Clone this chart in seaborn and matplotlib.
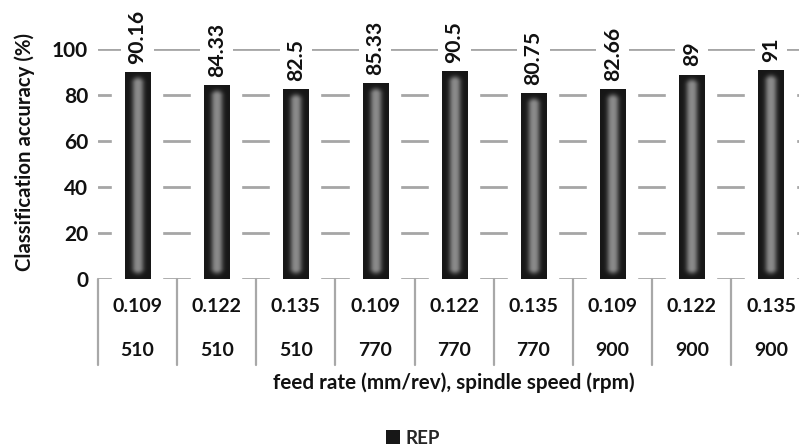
import numpy as np
import pandas as pd
import matplotlib
matplotlib.use("Agg")
import matplotlib.pyplot as plt
import matplotlib.patheffects as pe
from matplotlib.patches import Patch
import seaborn as sns

# ---- data ----
feed_rate = ["0.109", "0.122", "0.135", "0.109", "0.122", "0.135", "0.109", "0.122", "0.135"]
spindle_speed = ["510", "510", "510", "770", "770", "770", "900", "900", "900"]
accuracy = [90.16, 84.33, 82.5, 85.33, 90.5, 80.75, 82.66, 89, 91]
value_labels = ["90.16", "84.33", "82.5", "85.33", "90.5", "80.75", "82.66", "89", "91"]
yticks = [0, 20, 40, 60, 80, 100]
series_name = "REP"

df = pd.DataFrame({
    "cat": [f"{f} / {s}" for f, s in zip(feed_rate, spindle_speed)],
    "acc": accuracy,
})

sns.set_theme(style="white")
plt.rcParams["font.family"] = ["Lato", "DejaVu Sans"]
plt.rcParams["font.weight"] = "bold"

W, H = 799, 448
fig = plt.figure(figsize=(W / 100, H / 100), dpi=100)
left, right = 97.9, 810.6
top, bottom = 49.3, 278.6
ax = fig.add_axes([left / W, 1 - bottom / H, (right - left) / W, (bottom - top) / H])

dark = "#171717"
sns.barplot(data=df, x="cat", y="acc", color=dark, width=0.316, ax=ax,
            saturation=1, zorder=3)
ax.set_ylim(0, 100)
ax.set_xlim(-0.5, len(accuracy) - 0.5)

# white halo around bars
for p in ax.patches:
    p.set_path_effects([pe.Stroke(linewidth=19, foreground="white"), pe.Normal()])
    p.set_edgecolor("none")

# gridlines
ax.set_yticks(yticks)
ax.yaxis.grid(True, color="#a6a6a6", linewidth=2.0)
ax.xaxis.grid(False)
ax.set_axisbelow(True)
for s in ax.spines.values():
    s.set_visible(False)
ax.tick_params(axis="y", length=0, pad=7, labelsize=15, labelcolor="#111111")
ax.tick_params(axis="x", length=0, labelbottom=False)
for lab in ax.get_yticklabels():
    lab.set_fontweight("bold")
ax.set_xlabel("")
ax.set_ylabel("Classification accuracy (%)", fontsize=14.7, fontweight="bold", color="#111111")
ax.yaxis.set_label_coords(-0.0883, 0.551)

# inner glow gradient on bars
fig.canvas.draw()
for p in list(ax.patches):
    x0, y0, w, h = p.get_x(), p.get_y(), p.get_width(), p.get_height()
    (px0, py0) = ax.transData.transform((x0, y0))
    (px1, py1) = ax.transData.transform((x0 + w, y0 + h))
    wpx, hpx = abs(px1 - px0), abs(py1 - py0)
    nx, ny = max(int(wpx * 4), 8), max(int(hpx * 2), 8)
    X = (np.arange(nx) + 0.5) / nx * wpx
    Y = (np.arange(ny) + 0.5) / ny * hpx
    XX, YY = np.meshgrid(X, Y)
    inset = 11.0
    dx = np.abs(XX - wpx / 2)
    dy = np.maximum(0, np.maximum(inset - YY, YY - (hpx - inset)))
    dist = np.sqrt(dx ** 2 + dy ** 2)
    base, peak = 0.09, 0.54
    val = base + (peak - base) * np.exp(-(dist / 5.6) ** 2.6)
    img = np.dstack([val, val, val])
    im = ax.imshow(img, extent=(x0, x0 + w, y0, y0 + h), origin="lower",
                   aspect="auto", interpolation="bilinear", zorder=4)
    im.set_clip_path(p)
ax.set_ylim(0, 100)
ax.set_xlim(-0.5, len(accuracy) - 0.5)

# value labels
for i, (v, t) in enumerate(zip(accuracy, value_labels)):
    ax.annotate(t, (i, v), xytext=(0, 6), textcoords="offset points",
                rotation=90, ha="center", va="bottom", fontsize=15.2,
                fontweight="bold", color="#111111", zorder=6,
                annotation_clip=False,
                bbox=dict(facecolor="white", edgecolor="none", pad=4.5))

# category table below the axis
trans = ax.get_xaxis_transform()
ax_h = bottom - top
row1_y = -(306.5 - bottom) / ax_h
row2_y = -(350.0 - bottom) / ax_h
line_bottom = -(365.0 - bottom) / ax_h
for i, (f, s) in enumerate(zip(feed_rate, spindle_speed)):
    ax.text(i, row1_y, f, transform=trans, ha="center", va="center",
            fontsize=14, fontweight="bold", color="#111111")
    ax.text(i, row2_y, s, transform=trans, ha="center", va="center",
            fontsize=14, fontweight="bold", color="#111111")
for b in np.arange(len(accuracy) + 1) - 0.5:
    ax.plot([b, b], [0, line_bottom], transform=trans, color="#a8a8a8",
            linewidth=1.6, clip_on=False, zorder=2)

fig.text(((left + right) / 2) / W, 1 - 383 / H,
         "feed rate (mm/rev), spindle speed (rpm)", ha="center", va="center",
         fontsize=14.9, fontweight="bold", color="#111111")

handle = Patch(facecolor=dark, edgecolor="none", label=series_name)
fig.legend(handles=[handle], loc="center", bbox_to_anchor=(413 / W, 1 - 438 / H),
           frameon=False, handlelength=0.75, handleheight=0.75, handletextpad=0.3,
           prop={"size": 13.5, "weight": "bold"})

fig.savefig("out.png", dpi=100)
